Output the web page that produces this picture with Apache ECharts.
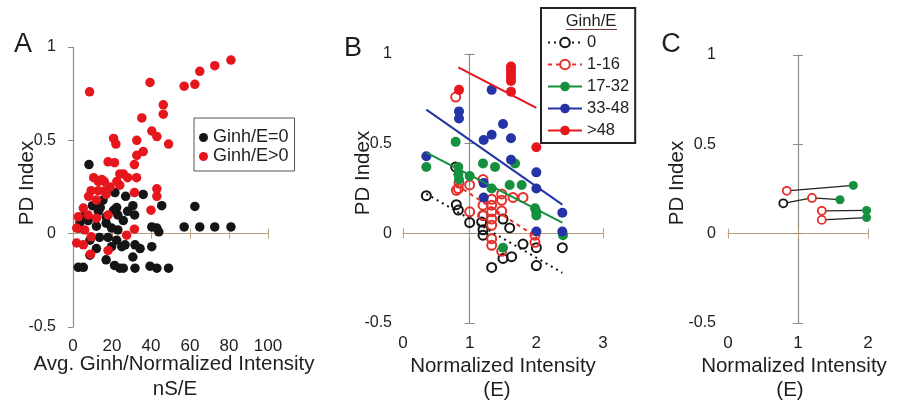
<!DOCTYPE html>
<html><head><meta charset="utf-8">
<script src="https://cdn.jsdelivr.net/npm/echarts@6/dist/echarts.min.js"></script>
<style>html,body{margin:0;padding:0;background:#fff}#c{width:899px;height:404px}</style>
</head><body><div id="c"></div>
<script>
// ---------- Panel A : [Avg. Ginh/Normalized Intensity (nS/E), PD Index]
const aNames = ['Ginh/E=0', 'Ginh/E>0'];
const aZero = [[8.2,0.37],[15.4,0.18],[21.5,0.22],[22.4,0.14],[13,0.12],[17,0.09],[23,0.1],[3.6,0.06],[7.8,0.07],[12,0.04],[17,0.056],[19.8,0.03],[23,0.02],[13.6,-0.02],[18,-0.02],[8.7,-0.035],[22.4,-0.035],[12,-0.08],[19.8,-0.07],[25,-0.07],[8.7,-0.115],[17,-0.14],[21.3,-0.17],[2.7,-0.18],[5.3,-0.18],[24,-0.185],[36,0.21],[45.5,0.15],[30.7,0.15],[31.6,0.1],[25.8,0.07],[40.4,0.036],[43,0.03],[26.7,-0.06],[31.8,-0.06],[34.4,-0.08],[40.4,-0.07],[30.7,-0.125],[25.8,-0.185],[31.8,-0.185],[39.5,-0.174],[43,-0.185],[49,-0.185],[57,0.036],[62.5,0.146],[65,0.036],[72.7,0.036],[81,0.036],[44,0.01],[10,0.15],[14,0.14],[27,0.2],[3,0.03],[6,0.1],[28,0.12],[20.8,0.125]];
const aPos = [[8.5,0.76],[39.5,0.81],[57,0.79],[62.5,0.8],[65,0.87],[72.7,0.9],[81,0.93],[46.3,0.69],[46.3,0.64],[35.3,0.62],[40.4,0.55],[43,0.52],[49,0.48],[20.8,0.51],[22,0.48],[32.7,0.5],[32.7,0.42],[36,0.44],[18,0.385],[21.3,0.38],[31.5,0.37],[24,0.32],[25.8,0.32],[32.6,0.3],[13,0.28],[16,0.28],[22.5,0.28],[24,0.26],[9.3,0.23],[13,0.23],[16.4,0.23],[19,0.25],[10.6,0.3],[14.8,0.29],[31.5,0.22],[43,0.24],[43,0.2],[40,0.126],[5.3,0.137],[2.7,0.09],[7.8,0.1],[12,0.083],[18,0.1],[1.9,0.03],[6,0.02],[9.3,-0.017],[1.9,-0.05],[5.3,-0.06],[18,-0.09],[9,-0.11],[31.5,0.024],[27.5,-0.008],[12,0.18],[8,0.2],[17,0.21],[28,0.3]];
const aXTicks = [0, 20, 40, 60, 80, 100];
const yTicks = [-0.5, 0, 0.5, 1];

// ---------- Panel B : [Normalized Intensity (E), PD Index], grouped by Ginh/E
const bGroups = ['0', '1-16', '17-32', '33-48', '>48'];
const bPts0 = [[0.35,0.21],[0.79,0.37],[0.8,0.16],[0.83,0.13],[1.0,0.06],[1.18,0.063],[1.2,0.1],[1.2,0.02],[1.2,-0.01],[1.33,-0.19],[1.5,0.08],[1.6,0.03],[1.5,-0.14],[1.63,-0.13],[1.8,-0.06],[2.0,-0.08],[2.0,-0.18],[2.39,-0.08]];
const bPts1_16 = [[0.79,0.76],[0.83,0.25],[0.8,0.24],[0.84,0.28],[1.0,0.27],[1.0,0.12],[1.2,0.3],[1.2,0.157],[1.2,0.1],[1.33,0.19],[1.33,0.157],[1.33,0.12],[1.33,0.08],[1.33,0.045],[1.33,-0.03],[1.33,-0.067],[1.48,0.22],[1.48,0.184],[1.48,0.125],[1.65,0.2],[1.8,0.2],[1.98,-0.01],[1.98,-0.05],[1.48,-0.1]];
const bPts17_32 = [[0.35,0.37],[0.79,0.51],[0.83,0.37],[0.83,0.33],[0.84,0.3],[1.0,0.32],[1.2,0.39],[1.38,0.37],[1.33,0.25],[1.6,0.27],[1.78,0.27],[1.68,0.39],[1.98,0.14],[2.0,0.12],[2.0,0.1],[1.5,-0.08],[2.4,-0.01]];
const bPts33_48 = [[0.35,0.43],[0.84,0.68],[0.84,0.64],[1.33,0.8],[1.5,0.61],[1.33,0.55],[1.21,0.52],[1.21,0.28],[1.21,0.2],[1.62,0.53],[1.62,0.41],[2.0,0.34],[2.0,0.25],[2.39,0.115],[2.39,0.01],[2.0,0.01]];
const bPtsOver48 = [[1.62,0.93],[1.62,0.91],[1.62,0.89],[1.62,0.87],[1.62,0.85],[1.62,0.79],[0.84,0.8],[2.0,0.48]];
// regression line end points
const bFit0 = [[0.35,0.22],[2.39,-0.22]];
const bFit1_16 = [[0.8,0.27],[2.0,-0.02]];
const bFit17_32 = [[0.35,0.45],[2.39,0.06]];
const bFit33_48 = [[0.35,0.69],[2.39,0.16]];
const bFitOver48 = [[0.83,0.925],[2.0,0.70]];
const bXTicks = [0, 1, 2, 3];

// ---------- Panel C : paired cells, before -> after
const cFromGroup = ['0', '1-16', '1-16', '1-16', '1-16'];
const cFrom = [[0.79,0.17],[0.84,0.24],[1.2,0.2],[1.34,0.128],[1.34,0.077]];
const cTo = [[1.2,0.2],[1.79,0.27],[1.6,0.19],[1.98,0.13],[1.98,0.09]];
const cXTicks = [0, 1, 2];

// ---------- styling
const FONT = "'Liberation Sans', Arial, Helvetica, sans-serif";
const INK = '#1e1e1e';
const HLINE = '#b8a17c';
const VLINE = '#8e8a84';
const RED = '#e5171d', BLACK = '#151515', GREEN = '#15903f', BLUE = '#2433a6', RED2 = '#e5302a';

const panels = [
  {left: 73, top: 47, width: 195, height: 280, ticks: aXTicks, yAt: 0, yLblMargin: 17, xLblMargin: 10.5},
  {left: 403, top: 54, width: 200, height: 269, ticks: bXTicks, yAt: 1, yLblMargin: 11, xLblMargin: 11.5},
  {left: 728, top: 55, width: 140, height: 268, ticks: cXTicks, yAt: 1, yLblMargin: 12, xLblMargin: 11.5}
];

const grids = [], xAxes = [], yAxes = [], xIdx = [], yIdx = [];
panels.forEach((p, g) => {
  grids.push({left: p.left, top: p.top, width: p.width, height: p.height, containLabel: false, outerBoundsMode: 'none'});
  const xmin = p.ticks[0], xmax = p.ticks[p.ticks.length - 1], xint = p.ticks[1] - p.ticks[0];
  const ymin = yTicks[0], ymax = yTicks[yTicks.length - 1], yint = yTicks[1] - yTicks[0];
  const xb = {gridIndex: g, type: 'value', min: xmin, max: xmax, interval: xint, position: 'bottom', splitLine: {show: false}};
  const yb = {gridIndex: g, type: 'value', min: ymin, max: ymax, interval: yint, position: 'left', splitLine: {show: false}};
  // y axes
  const yLabelIndex = yAxes.length;
  yIdx.push(yLabelIndex);
  const yOnEdge = p.yAt === xmin;
  yAxes.push(Object.assign({}, yb, {
    axisLine: {show: yOnEdge, onZero: false, lineStyle: {color: VLINE, width: 1.2}},
    axisTick: {show: yOnEdge, length: 5, lineStyle: {color: VLINE}},
    axisLabel: {margin: p.yLblMargin, fontSize: 16, color: INK, fontFamily: FONT}
  }));
  if (!yOnEdge) {
    const off = -(p.yAt - xmin) / (xmax - xmin) * p.width;
    yAxes.push(Object.assign({}, yb, {offset: off,
      axisLine: {show: true, onZero: false, lineStyle: {color: VLINE, width: 1.2}},
      axisTick: {show: true, length: 5, lineStyle: {color: VLINE}},
      axisLabel: {show: false}}));
    yAxes.push(Object.assign({}, yb, {offset: off,
      axisLine: {show: false, onZero: false},
      axisTick: {show: true, inside: true, length: 5, lineStyle: {color: VLINE}},
      axisLabel: {show: false}}));
  }
  // x axes
  xIdx.push(xAxes.length);
  xAxes.push(Object.assign({}, xb, {
    axisLine: {show: false, onZero: false}, axisTick: {show: false},
    axisLabel: {margin: p.xLblMargin, fontSize: 17, color: INK, fontFamily: FONT}
  }));
  xAxes.push(Object.assign({}, xb, {
    axisLine: {show: true, onZero: true, onZeroAxisIndex: yLabelIndex, lineStyle: {color: HLINE, width: 1.2}},
    axisTick: {show: true, length: 5, lineStyle: {color: HLINE}}, axisLabel: {show: false}
  }));
  xAxes.push(Object.assign({}, xb, {
    axisLine: {show: false, onZero: true, onZeroAxisIndex: yLabelIndex},
    axisTick: {show: true, inside: true, length: 5, lineStyle: {color: HLINE}}, axisLabel: {show: false}
  }));
});

const series = [];
// Panel A
series.push({type: 'scatter', name: aNames[0], xAxisIndex: xIdx[0], yAxisIndex: yIdx[0], data: aZero,
  symbol: 'circle', symbolSize: 9.5, itemStyle: {color: BLACK, opacity: 1}});
series.push({type: 'scatter', name: aNames[1], xAxisIndex: xIdx[0], yAxisIndex: yIdx[0], data: aPos,
  symbol: 'circle', symbolSize: 9.5, itemStyle: {color: RED, opacity: 1}});

// Panel B
const bPts = [bPts0, bPts1_16, bPts17_32, bPts33_48, bPtsOver48];
const bFits = [bFit0, bFit1_16, bFit17_32, bFit33_48, bFitOver48];
const bColors = [BLACK, RED2, GREEN, BLUE, RED];
const bHollow = [true, true, false, false, false];
const bDash = [[2, 4], [4, 4], 'solid', 'solid', 'solid'];
bGroups.forEach((name, i) => {
  series.push({type: 'line', name, xAxisIndex: xIdx[1], yAxisIndex: yIdx[1], data: bFits[i],
    symbol: bHollow[i] ? 'emptyCircle' : 'circle', showSymbol: false, silent: true,
    itemStyle: {color: bColors[i]},
    lineStyle: {color: bColors[i], width: 2, type: bDash[i]}});
});
bGroups.forEach((name, i) => {
  series.push({type: 'scatter', name, xAxisIndex: xIdx[1], yAxisIndex: yIdx[1], data: bPts[i],
    symbol: 'circle', symbolSize: bHollow[i] ? 9 : 10,
    itemStyle: bHollow[i] ? {color: 'rgba(255,255,255,0)', borderColor: bColors[i], borderWidth: 2, opacity: 1}
                          : {color: bColors[i], opacity: 1}});
});

// Panel C
series.push({type: 'lines', coordinateSystem: 'cartesian2d', xAxisIndex: xIdx[2], yAxisIndex: yIdx[2],
  data: cFrom.map((f, i) => ({coords: [f, cTo[i]]})), symbol: 'none',
  lineStyle: {color: '#222', width: 1.3, opacity: 1}});
series.push({type: 'scatter', name: 'C 17-32', xAxisIndex: xIdx[2], yAxisIndex: yIdx[2], data: cTo,
  symbol: 'circle', symbolSize: 9, itemStyle: {color: GREEN, opacity: 1}});
['0', '1-16'].forEach((gname, k) => {
  series.push({type: 'scatter', name: 'C ' + gname, xAxisIndex: xIdx[2], yAxisIndex: yIdx[2],
    data: cFrom.filter((_, i) => cFromGroup[i] === gname),
    symbol: 'circle', symbolSize: 8,
    itemStyle: {color: '#fff', borderColor: k === 0 ? BLACK : RED2, borderWidth: 1.8, opacity: 1}});
});

const txt = (text, x, y, size, rot) => ({type: 'text', x, y, rotation: rot || 0, silent: true,
  style: {text, fill: INK, font: size + 'px ' + FONT, align: 'center', verticalAlign: 'middle',
          textAlign: 'center', textVerticalAlign: 'middle'}});

const option = {
  animation: false,
  backgroundColor: '#fff',
  grid: grids, xAxis: xAxes, yAxis: yAxes, series,
  legend: [
    {data: aNames, left: 194, top: 118, orient: 'vertical', icon: 'circle', itemWidth: 9, itemHeight: 9,
     itemGap: 0, padding: [10, 6, 5, 5], borderColor: '#555', borderWidth: 1, selectedMode: false,
     textStyle: {fontSize: 18, lineHeight: 19, color: INK, fontFamily: FONT}},
    {data: bGroups, left: 541, top: 8, orient: 'vertical', itemWidth: 34, itemHeight: 12,
     itemGap: 5, padding: [26, 6, 4, 6], borderColor: '#222', borderWidth: 2, selectedMode: false,
     textStyle: {fontSize: 16.5, lineHeight: 16, color: INK, fontFamily: FONT}}
  ],
  graphic: [
    txt('A', 23, 45, 27), txt('B', 353, 49, 27), txt('C', 671, 45, 27),
    txt('PD Index', 27, 183, 20.5, Math.PI / 2),
    txt('PD Index', 363, 173, 20.5, Math.PI / 2),
    txt('PD Index', 677, 183, 20.5, Math.PI / 2),
    txt('Avg. Ginh/Normalized Intensity', 174, 364, 20.5), txt('nS/E', 175, 389, 20.5),
    txt('Normalized Intensity', 503, 366, 20.5), txt('(E)', 497, 390, 20.5),
    txt('Normalized Intensity', 794, 366, 20.5), txt('(E)', 790, 390, 20.5),
    txt('Ginh/E', 591, 21, 16.5),
    {type: 'line', silent: true, shape: {x1: 566, y1: 29.5, x2: 617, y2: 29.5}, style: {stroke: '#6b3b33', lineWidth: 1.2}}
  ]
};
const chart = echarts.init(document.getElementById('c'), null, {renderer: 'canvas'});
chart.setOption(option);
</script></body></html>
